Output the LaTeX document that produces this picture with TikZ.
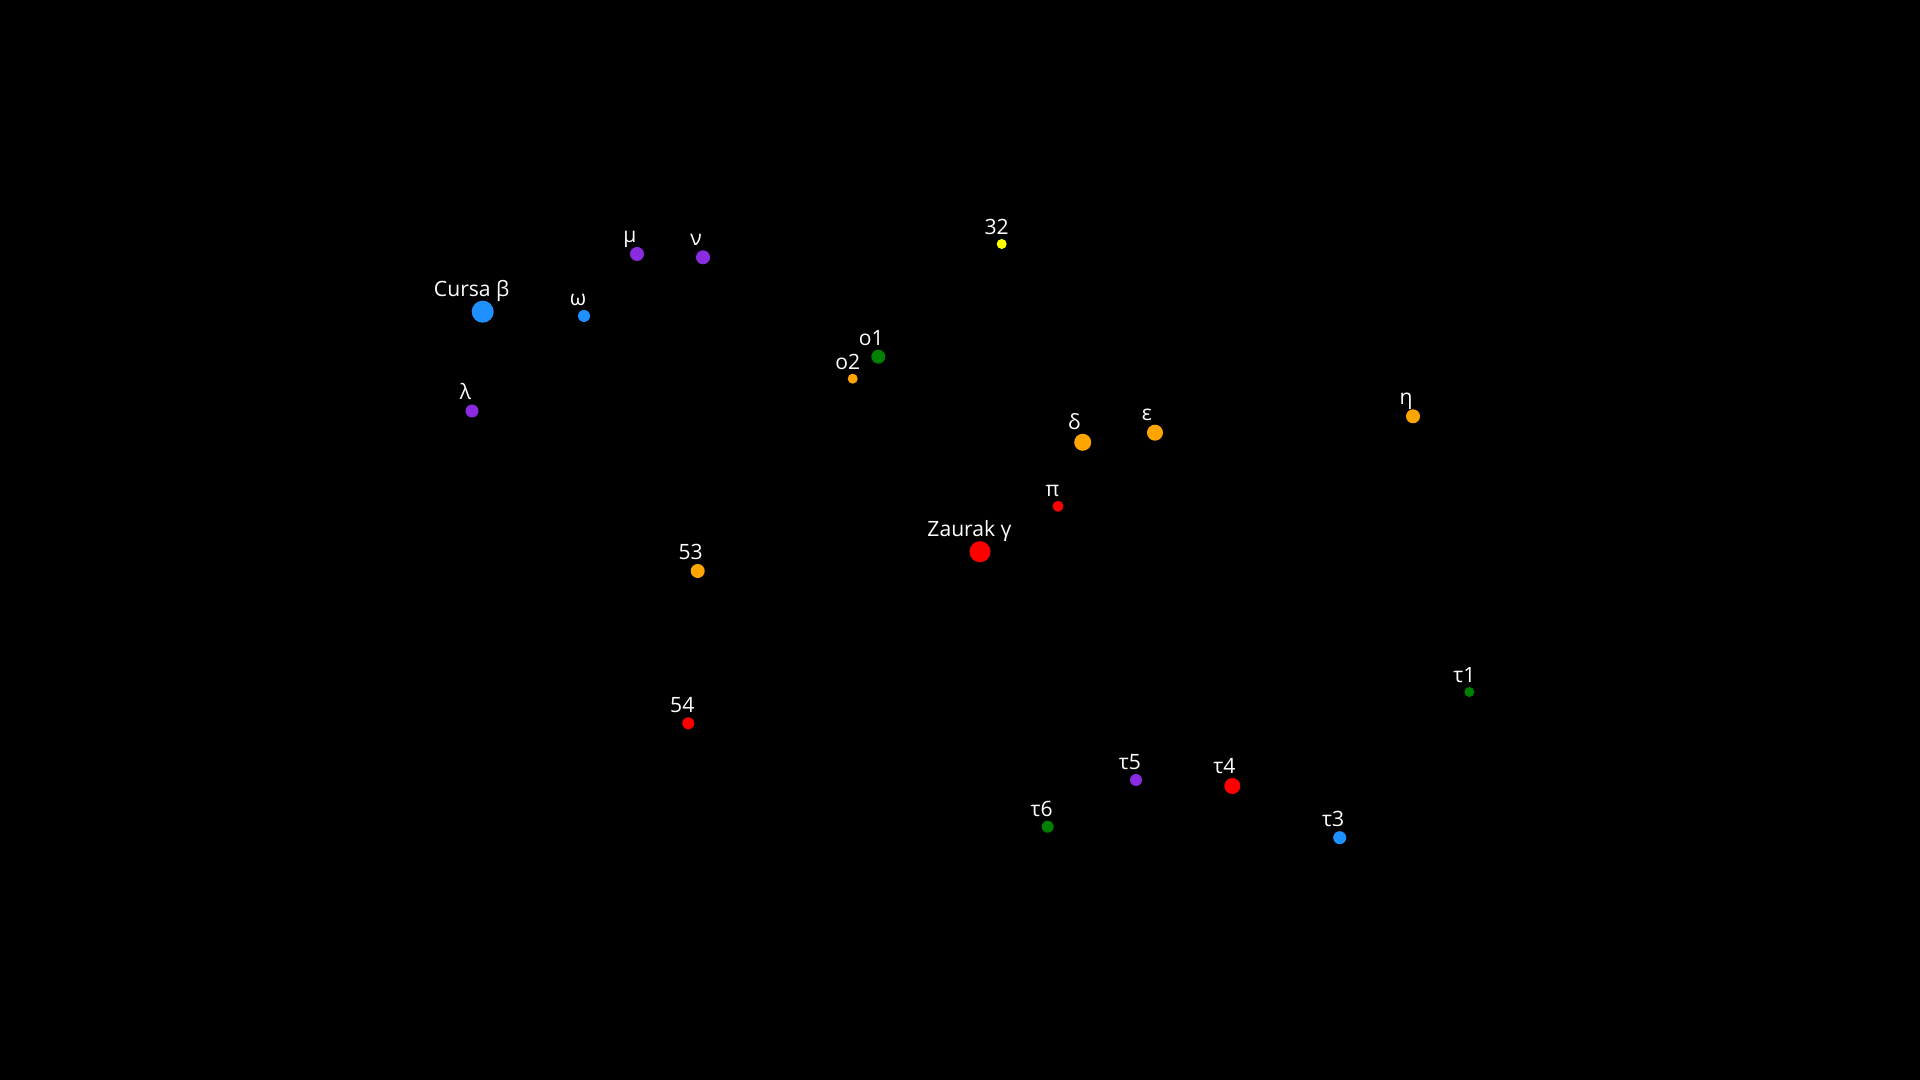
\documentclass[tikz,border=0pt]{standalone}
\usepackage{fontspec}
\setmainfont{Open Sans}
\definecolor{sblue}{HTML}{1E90FF}
\definecolor{spurple}{HTML}{8A2BE2}
\definecolor{sgreen}{HTML}{008000}
\definecolor{sorange}{HTML}{FFA500}
\definecolor{sred}{HTML}{FF0000}
\definecolor{syellow}{HTML}{FFFF00}
\tikzset{
  stardot/.style={circle, inner sep=0pt, draw=none},
  lbl/.style={text=white, anchor=base, inner sep=0pt, font=\fontsize{6}{7}\selectfont}
}
\newcommand{\mystar}[7]{%
  % name, x, y, r, colour, label
  \node[stardot, fill=#5, minimum size=#4*0.02cm] (#1) at (#2,#3) {};
  \node[lbl] (#1L) at ({#2-#4},{#3-#4-4.5}) {#6};
}
\begin{document}
\begin{tikzpicture}[x=0.01cm,y=-0.01cm]
\fill[black] (0,0) rectangle (1920,1080);
\useasboundingbox (0,0) rectangle (1920,1080);
\mystar{beta}{482.7}{311.7}{11}{sblue}{Cursa β}{}
\mystar{omega}{584}{316}{6}{sblue}{ω}{}
\mystar{mu}{637}{254}{7}{spurple}{μ}{}
\mystar{nu}{703}{257.3}{7}{spurple}{ν}{}
\mystar{lambda}{472}{411}{6.5}{spurple}{λ}{}
\mystar{s32}{1001.7}{244}{5}{syellow}{32}{}
\mystar{oa}{878.3}{356.7}{7}{sgreen}{ο1}{}
\mystar{ob}{852.7}{378.7}{5}{sorange}{ο2}{}
\mystar{delta}{1082.7}{442.3}{8.5}{sorange}{δ}{}
\mystar{eps}{1155}{432.7}{8}{sorange}{ε}{}
\mystar{pi}{1058}{506.3}{5.5}{sred}{π}{}
\mystar{gamma}{980}{551.7}{10.5}{sred}{Zaurak γ}{}
\mystar{s53}{697.7}{571}{7}{sorange}{53}{}
\mystar{s54}{688.3}{723.3}{6}{sred}{54}{}
\mystar{tauv}{1136}{780}{6}{spurple}{τ5}{}
\mystar{tauiv}{1232.3}{786}{8}{sred}{τ4}{}
\mystar{tauvi}{1047.7}{826.7}{6}{sgreen}{τ6}{}
\mystar{tauiii}{1339.7}{837.7}{6.5}{sblue}{τ3}{}
\mystar{eta}{1413}{416.3}{7}{sorange}{η}{}
\mystar{taui}{1469.3}{692}{5}{sgreen}{τ1}{}
\end{tikzpicture}
\end{document}
